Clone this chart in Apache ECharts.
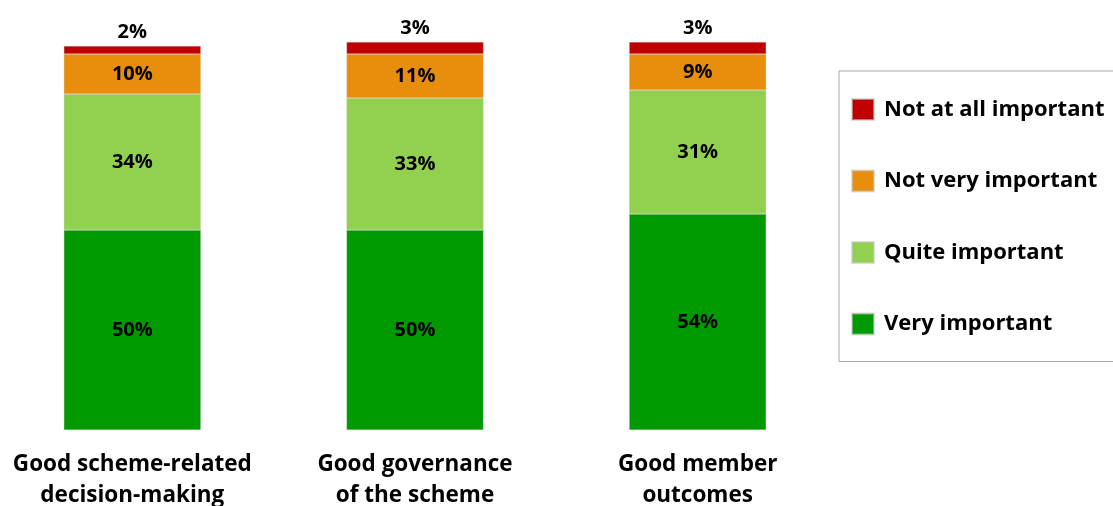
<!DOCTYPE html>
<html><head><meta charset="utf-8">
<script src="https://cdn.jsdelivr.net/npm/echarts@6/dist/echarts.min.js"></script>
<style>html,body{margin:0;padding:0;background:#fff}#c{width:1113px;height:506px}</style>
</head><body><div id="c"></div>
<script>
const categories = ['Good scheme-related\ndecision-making', 'Good governance\nof the scheme', 'Good member\noutcomes'];
const veryImportant = [50, 50, 54];
const quiteImportant = [34, 33, 31];
const notVeryImportant = [10, 11, 9];
const notAtAllImportant = [2, 3, 3];
const seriesNames = ['Very important', 'Quite important', 'Not very important', 'Not at all important'];
const seriesColors = ['#009A00', '#92D050', '#E88E0C', '#C00000'];

const FONT = '"Open Sans"';
const chart = echarts.init(document.getElementById('c'));
const valuesList = [veryImportant, quiteImportant, notVeryImportant, notAtAllImportant];
const series = valuesList.map((vals, i) => ({
  name: seriesNames[i],
  type: 'bar',
  stack: 'total',
  barWidth: 137,
  data: vals,
  itemStyle: { color: seriesColors[i], borderColor: 'rgba(200,200,200,0.6)', borderWidth: 0.5 },
  label: {
    show: true,
    position: i === 3 ? 'top' : 'inside',
    distance: 4,
    formatter: '{c}%',
    color: '#000',
    fontFamily: FONT,
    fontWeight: 'bold',
    fontSize: 20
  }
}));
chart.setOption({
  animation: false,
  backgroundColor: '#fff',
  grid: { left: -9, width: 848, top: 30, bottom: 76, outerBoundsMode: 'none', containLabel: false },
  xAxis: {
    type: 'category',
    data: categories,
    axisLine: { show: false },
    axisTick: { show: false },
    axisLabel: {
      interval: 0,
      margin: 19,
      color: '#000',
      fontFamily: FONT,
      fontWeight: 'bold',
      fontSize: 22.5,
      lineHeight: 31
    }
  },
  yAxis: { type: 'value', min: 0, max: 100, show: false, splitLine: { show: false } },
  legend: {
    orient: 'vertical',
    left: 839,
    top: 71,
    data: ['Not at all important', 'Not very important', 'Quite important', 'Very important'],
    icon: 'rect',
    itemWidth: 22,
    itemHeight: 21,
    itemGap: 48.5,
    padding: [27, 30, 26, 12],
    borderColor: '#aaaaaa',
    borderWidth: 1,
    textStyle: { color: '#000', fontFamily: FONT, fontWeight: 'bold', fontSize: 22, padding: [0, 0, 0, 5] }
  },
  series: series
});
</script>
</body></html>
